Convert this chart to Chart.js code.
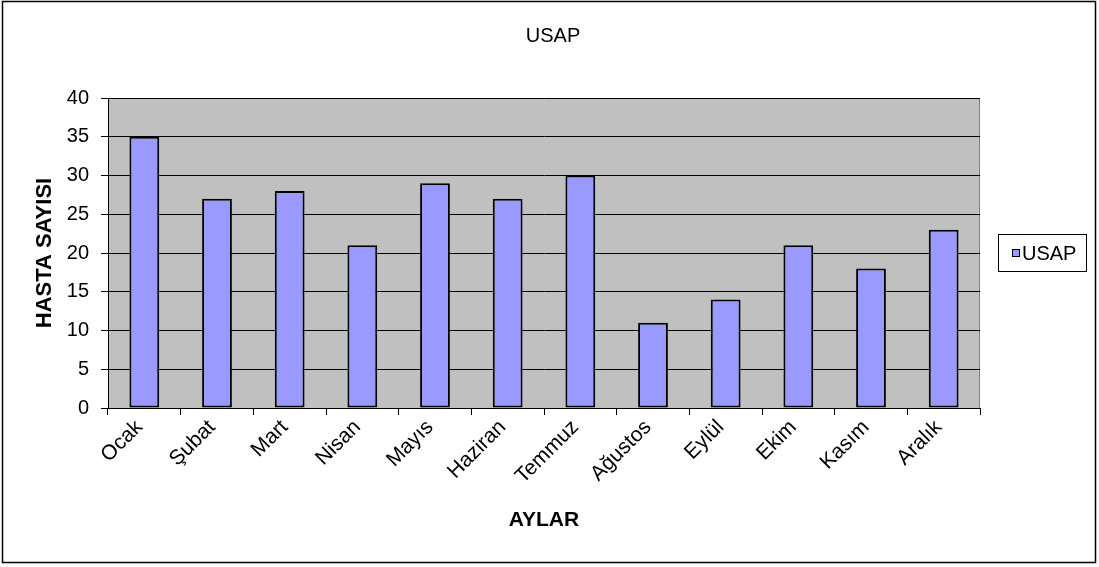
<!DOCTYPE html>
<html>
<head>
<meta charset="utf-8">
<script src="https://cdn.jsdelivr.net/npm/chart.js@4/dist/chart.umd.min.js"></script>
<style>
  html, body { margin: 0; padding: 0; background: #ffffff; }
  #wrap { width: 1099px; height: 567px; position: relative; }
</style>
</head>
<body>
<div id="wrap"><canvas id="c" width="1099" height="567"></canvas></div>
<script>
// Monthly patient counts
const months = ['Ocak', 'Şubat', 'Mart', 'Nisan', 'Mayıs', 'Haziran', 'Temmuz', 'Ağustos', 'Eylül', 'Ekim', 'Kasım', 'Aralık'];
const usapCounts = [35, 27, 28, 21, 29, 27, 30, 11, 14, 21, 18, 23];
const seriesName = 'USAP';
const chartTitle = 'USAP';
const yTitle = 'HASTA SAYISI';
const xTitle = 'AYLAR';

const FONT = '"Liberation Sans", Arial, sans-serif';

// Frame, title, grey plot background and boxed legend
const decorations = {
  id: 'decorations',
  beforeDraw(chart) {
    const { ctx, chartArea: a } = chart;
    ctx.save();
    ctx.fillStyle = '#ffffff';
    ctx.fillRect(0, 0, chart.width, chart.height);
    ctx.fillStyle = '#C0C0C0';
    ctx.fillRect(a.left, a.top, a.right - a.left, a.bottom - a.top);
    ctx.strokeStyle = '#808080';
    ctx.lineWidth = 1;
    ctx.beginPath();
    ctx.moveTo(a.left, a.top + 0.5);
    ctx.lineTo(a.right - 0.5, a.top + 0.5);
    ctx.lineTo(a.right - 0.5, a.bottom);
    ctx.stroke();
    ctx.restore();
  },
  afterDraw(chart) {
    const { ctx } = chart;
    ctx.save();
    // outer frame
    ctx.strokeStyle = '#000000';
    ctx.lineWidth = 1.5;
    ctx.strokeRect(2.5, 1.5, 1093, 561);
    // chart title
    ctx.fillStyle = '#000000';
    ctx.font = '20px ' + FONT;
    ctx.textAlign = 'center';
    ctx.textBaseline = 'middle';
    ctx.fillText(chartTitle, 553, 36);
    // legend
    const ds = chart.data.datasets[0];
    const lx = 998, ly = 234, lw = 88, lh = 37;
    ctx.lineWidth = 1;
    ctx.strokeStyle = '#000000';
    ctx.fillStyle = '#ffffff';
    ctx.fillRect(lx, ly, lw, lh);
    ctx.strokeRect(lx + 0.5, ly + 0.5, lw, lh);
    ctx.fillStyle = ds.backgroundColor;
    ctx.fillRect(1012, 249, 8, 8);
    ctx.strokeRect(1012.5, 249.5, 7, 7);
    ctx.fillStyle = '#000000';
    ctx.font = '20px ' + FONT;
    ctx.textBaseline = 'middle';
    ctx.textAlign = 'left';
    ctx.fillText(ds.label, 1022, 254);
    ctx.restore();
  }
};

new Chart(document.getElementById('c'), {
  type: 'bar',
  data: {
    labels: months,
    datasets: [{
      label: seriesName,
      data: usapCounts,
      backgroundColor: '#9999FF',
      borderColor: '#000000',
      borderWidth: 2,
      borderSkipped: false,
      categoryPercentage: 1.0,
      barPercentage: 0.41
    }]
  },
  options: {
    responsive: false,
    animation: false,
    devicePixelRatio: 1,
    layout: { padding: { left: 0, right: 119, top: 98, bottom: 0 } },
    plugins: {
      legend: { display: false },
      tooltip: { enabled: false },
      title: { display: false }
    },
    scales: {
      y: {
        min: 0,
        max: 40,
        afterFit(scale) { scale.width = 108; },
        ticks: {
          stepSize: 5,
          color: '#000000',
          padding: 12,
          font: { family: FONT, size: 20 }
        },
        grid: { color: '#000000', lineWidth: 1, tickLength: 7, drawTicks: true },
        border: { display: true, color: '#000000', width: 1 },
        title: {
          display: true,
          text: yTitle,
          color: '#000000',
          font: { family: FONT, size: 22, weight: 'bold', lineHeight: 1.2 },
          padding: { top: 32, bottom: 0 }
        }
      },
      x: {
        afterFit(scale) { scale.height = 159; },
        ticks: {
          color: '#000000',
          maxRotation: 45,
          minRotation: 45,
          padding: 0,
          labelOffset: -5,
          autoSkip: false,
          font: { family: FONT, size: 21 }
        },
        grid: { display: true, drawOnChartArea: false, drawTicks: true, tickLength: 7, color: '#000000', offset: true },
        border: { display: true, color: '#000000', width: 1 },
        title: {
          display: true,
          text: xTitle,
          color: '#000000',
          font: { family: FONT, size: 21, weight: 'bold', lineHeight: 1.2 },
          padding: { top: 0, bottom: 34 }
        }
      }
    }
  },
  plugins: [decorations]
});
</script>
</body>
</html>
